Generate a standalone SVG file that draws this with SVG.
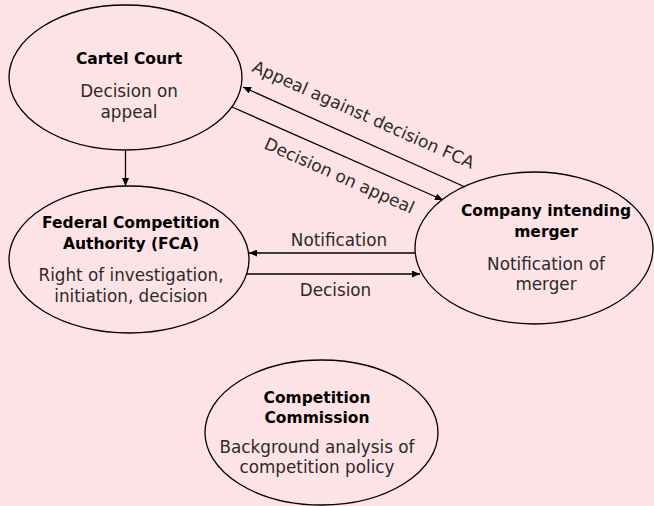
<svg xmlns="http://www.w3.org/2000/svg" width="654" height="506" viewBox="0 0 654 506">
<defs>
<marker id="ah" viewBox="0 0 8 7" refX="8" refY="3.5" markerWidth="8" markerHeight="7" orient="auto" markerUnits="userSpaceOnUse"><path d="M0,0 L8,3.5 L0,7 z" fill="#000"/></marker>
<style>
.node{fill:none;stroke:#000;stroke-width:1.3}
.t{font-family:"DejaVu Sans","Liberation Sans",sans-serif;font-size:16.8px;fill:#2a2a2a;text-anchor:middle}
.b{font-weight:bold;fill:#000;font-size:15.5px}
.r{font-size:17px}
.c{stroke:#000;stroke-width:1.3;fill:none;marker-end:url(#ah)}
</style>
</defs>
<rect width="654" height="506" fill="#fde3e5"/>
<g id="cartel">
<ellipse class="node" cx="125.5" cy="77.5" rx="116.5" ry="72.5"/>
<text class="t b" x="129" y="64">Cartel Court</text>
<text class="t" x="129" y="97">Decision on</text>
<text class="t" x="129" y="118">appeal</text>
</g>
<g id="fca">
<ellipse class="node" cx="129" cy="259.5" rx="120" ry="73.5"/>
<text class="t b" x="131" y="228">Federal Competition</text>
<text class="t b" x="131" y="249">Authority (FCA)</text>
<text class="t" x="131" y="281">Right of investigation,</text>
<text class="t" x="131" y="302">initiation, decision</text>
</g>
<g id="company">
<ellipse class="node" cx="534" cy="248" rx="119" ry="76"/>
<text class="t b" x="546" y="216">Company intending</text>
<text class="t b" x="546" y="237">merger</text>
<text class="t" x="546" y="270">Notification of</text>
<text class="t" x="546" y="290">merger</text>
</g>
<g id="commission">
<ellipse class="node" cx="321.5" cy="432.5" rx="116.5" ry="72.5"/>
<text class="t b" x="317" y="403">Competition</text>
<text class="t b" x="317" y="423">Commission</text>
<text class="t" x="317" y="453">Background analysis of</text>
<text class="t" x="317" y="473">competition policy</text>
</g>
<g id="connectors">
<line class="c" x1="125.5" y1="150" x2="125.5" y2="186"/>
<line class="c" x1="465" y1="187" x2="243" y2="87"/>
<line class="c" x1="232" y1="107" x2="443" y2="200"/>
<line class="c" x1="415" y1="253" x2="249" y2="253"/>
<line class="c" x1="247" y1="274" x2="420" y2="274"/>
<text class="t" x="339" y="246">Notification</text>
<text class="t" x="335.5" y="296">Decision</text>
<text class="t r" transform="translate(361,120) rotate(24)">Appeal against decision FCA</text>
<text class="t r" transform="translate(337,181) rotate(24)">Decision on appeal</text>
</g>
</svg>
